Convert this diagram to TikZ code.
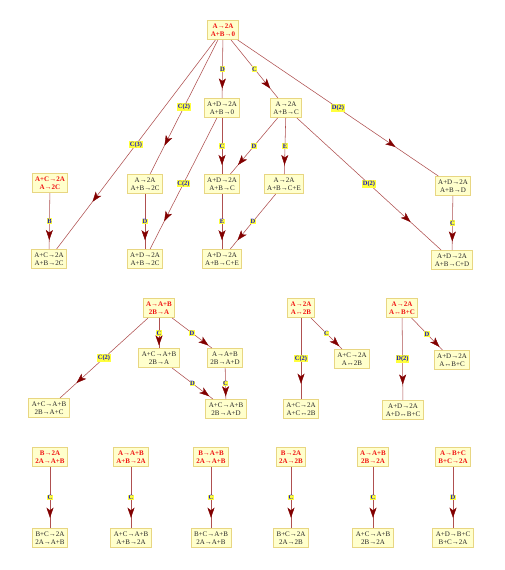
\documentclass[tikz,border=0pt]{standalone}
\usepackage{fontspec}
\setmainfont{Liberation Serif}
\usetikzlibrary{arrows.meta,decorations.markings}
\definecolor{nodefill}{RGB}{255,255,204}
\definecolor{nodedraw}{RGB}{232,214,130}
\definecolor{edgecol}{RGB}{175,80,80}
\definecolor{headcol}{RGB}{130,0,0}
\definecolor{lblfill}{RGB}{255,255,60}
\definecolor{lbltext}{RGB}{20,20,200}
\definecolor{roottext}{RGB}{240,20,20}
\tikzset{
  box/.style={draw=nodedraw, fill=nodefill, line width=0.8pt, align=center,
    font=\fontsize{7}{8.5}\selectfont, inner xsep=3pt, inner ysep=3pt, text=black!85},
  rootbox/.style={box, text=roottext, font=\fontsize{7}{8.5}\selectfont\bfseries},
  edgeline/.style={draw=edgecol, line width=0.55pt},
  elabel/.style={fill=lblfill, text=lbltext, font=\fontsize{6.5}{6.5}\selectfont\bfseries, inner sep=0.6pt},
  headmark/.style={decorate, decoration={markings,
    mark=at position #1 with {\arrow[headcol]{Stealth[length=10pt,width=7pt,inset=2.5pt]}}}},
}
\newcommand{\gedge}[3]{\draw[edgeline] (#1) -- node[elabel]{#3} (#2);
  \path[headmark=0.75] (#1.center) -- (#2.center);}
\begin{document}
\begin{tikzpicture}[x=1pt,y=-1pt]
\fill[white] (0,0) rectangle (505,570);
\useasboundingbox (0,0) rectangle (505,570);
% component 1
\node[rootbox] (T) at (223,30) {A→2A\\A+B→0};
\node[box] (n1) at (222,108) {A+D→2A\\A+B→0};
\node[box] (n2) at (286,108) {A→2A\\A+B→C};
\node[rootbox] (n3) at (50,183) {A+C→2A\\A→2C};
\node[box] (n4) at (145,184) {A→2A\\A+B→2C};
\node[box] (n5) at (222,184) {A+D→2A\\A+B→C};
\node[box] (n6) at (284,184) {A→2A\\A+B→C+E};
\node[box] (n7) at (453,186) {A+D→2A\\A+B→D};
\node[box] (n8) at (49,259) {A+C→2A\\A+B→2C};
\node[box] (n9) at (145,259) {A+D→2A\\A+B→2C};
\node[box] (n10) at (222,259) {A+D→2A\\A+B→C+E};
\node[box] (n11) at (452,260) {A+D→2A\\A+B→C+D};
\gedge{T}{n8}{C(3)}
\gedge{T}{n4}{C(2)}
\gedge{T}{n1}{D}
\gedge{T}{n2}{C}
\gedge{T}{n7}{D(2)}
\gedge{n3}{n8}{B}
\gedge{n4}{n9}{D}
\gedge{n1}{n9}{C(2)}
\gedge{n1}{n5}{C}
\gedge{n2}{n5}{D}
\gedge{n2}{n6}{E}
\gedge{n5}{n10}{E}
\gedge{n6}{n10}{D}
\gedge{n2}{n11}{D(2)}
\gedge{n7}{n11}{C}
% component 2
\node[rootbox] (r2) at (159,308) {A→A+B\\2B→A};
\node[box] (m1) at (159,358) {A+C→A+B\\2B→A};
\node[box] (m2) at (225,358) {A→A+B\\2B→A+D};
\node[box] (m3) at (49,408) {A+C→A+B\\2B→A+C};
\node[box] (m4) at (226,409) {A+C→A+B\\2B→A+D};
\gedge{r2}{m1}{C}
\gedge{r2}{m2}{D}
\gedge{r2}{m3}{C(2)}
\gedge{m1}{m4}{D}
\gedge{m2}{m4}{C}
% component 3
\node[rootbox] (r3) at (301,308) {A→2A\\A↔2B};
\node[box] (p1) at (352,359) {A+C→2A\\A↔2B};
\node[box] (p2) at (301,409) {A+C→2A\\A+C↔2B};
\gedge{r3}{p1}{C}
\gedge{r3}{p2}{C(2)}
% component 4
\node[rootbox] (r4) at (402,308) {A→2A\\A↔B+C};
\node[box] (q1) at (452,360) {A+D→2A\\A↔B+C};
\node[box] (q2) at (403,410) {A+D→2A\\A+D↔B+C};
\gedge{r4}{q1}{D}
\gedge{r4}{q2}{D(2)}
% row 4
\node[rootbox] (s1) at (50,457) {B→2A\\2A→A+B};
\node[box] (t1) at (50,538) {B+C→2A\\2A→A+B};
\node[rootbox] (s2) at (131,457) {A→A+B\\A+B→2A};
\node[box] (t2) at (131,538) {A+C→A+B\\A+B→2A};
\node[rootbox] (s3) at (211,457) {B→A+B\\2A→A+B};
\node[box] (t3) at (211,538) {B+C→A+B\\2A→A+B};
\node[rootbox] (s4) at (291,457) {B→2A\\2A→2B};
\node[box] (t4) at (291,538) {B+C→2A\\2A→2B};
\node[rootbox] (s5) at (373,457) {A→A+B\\2B→2A};
\node[box] (t5) at (373,538) {A+C→A+B\\2B→2A};
\node[rootbox] (s6) at (453,457) {A→B+C\\B+C→2A};
\node[box] (t6) at (453,538) {A+D→B+C\\B+C→2A};
\gedge{s1}{t1}{C}
\gedge{s2}{t2}{C}
\gedge{s3}{t3}{C}
\gedge{s4}{t4}{C}
\gedge{s5}{t5}{C}
\gedge{s6}{t6}{D}
\end{tikzpicture}
\end{document}
